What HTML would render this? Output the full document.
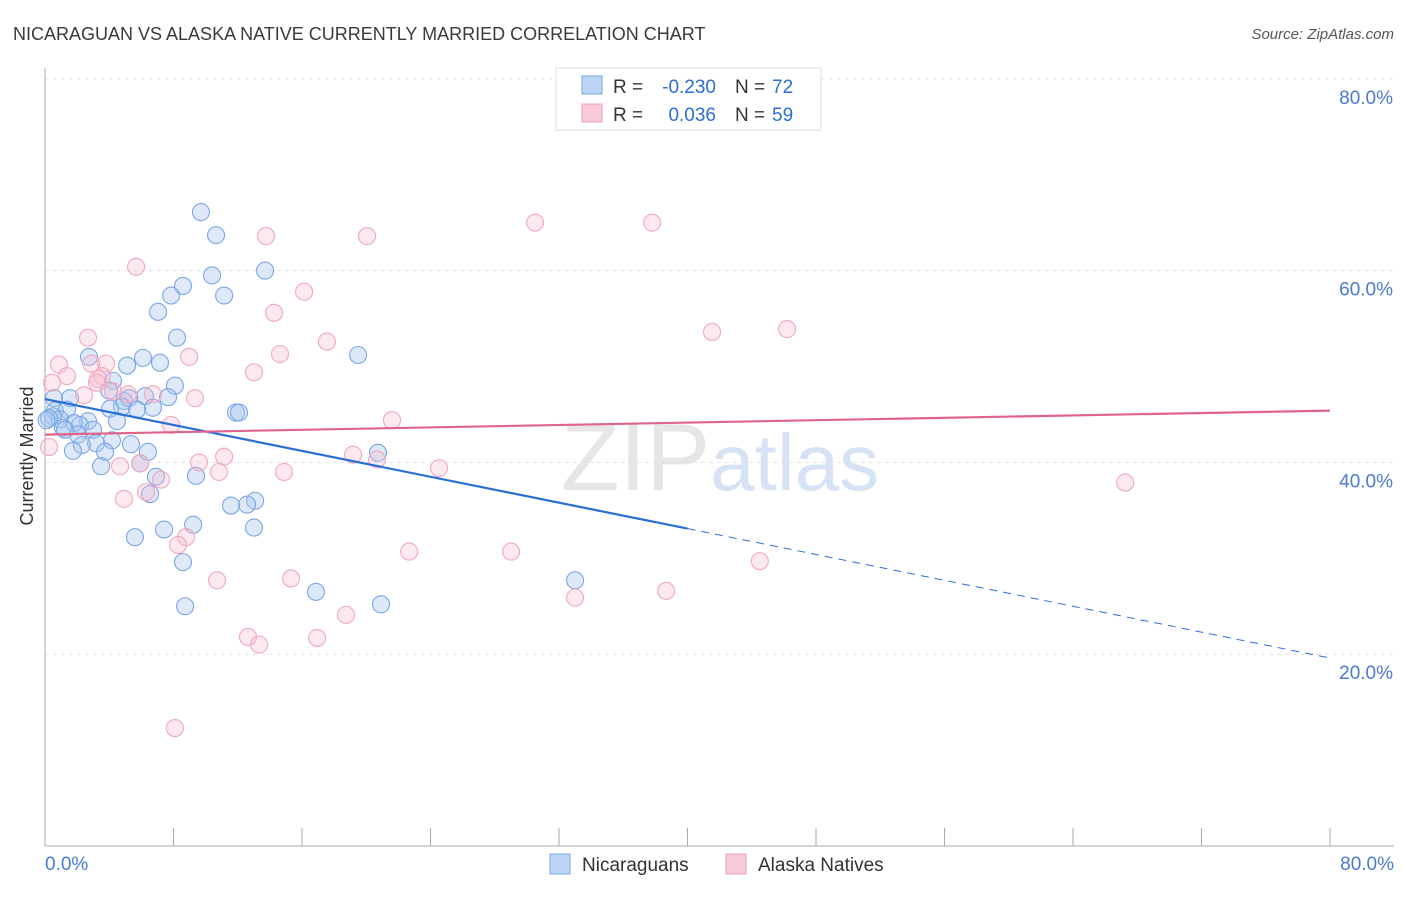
<!DOCTYPE html>
<html><head><meta charset="utf-8"><style>
body{margin:0;background:#fff;font-family:"Liberation Sans",sans-serif;}
svg text{font-family:"Liberation Sans",sans-serif;}
</style></head><body>
<svg id="chart" width="1406" height="892" xmlns="http://www.w3.org/2000/svg">
<text x="13" y="40" font-size="18" fill="#3a3a3a">NICARAGUAN VS ALASKA NATIVE CURRENTLY MARRIED CORRELATION CHART</text>
<text x="1394" y="39" font-size="15" fill="#555" text-anchor="end" font-style="italic">Source: ZipAtlas.com</text>
<text x="720" y="490" font-size="96" text-anchor="middle" fill="#e6e6e6" font-family="Liberation Serif"><tspan>ZIP</tspan><tspan fill="#d6e3f5" font-family="Liberation Sans" font-size="80">atlas</tspan></text>
<g id="grid"></g>
<g id="axes"></g>
<g id="pts"></g>
<g id="lines"></g>
<text transform="translate(33,456) rotate(-90)" font-size="18" fill="#333" text-anchor="middle">Currently Married</text>
<g>
<rect x="556" y="68" width="265" height="62" fill="#fff" stroke="#ddd"/>
<rect x="582" y="76" width="20" height="18" fill="#bcd4f5" stroke="#7aa6e6"/>
<rect x="582" y="104" width="20" height="18" fill="#f9c9d7" stroke="#ee9fb8"/>
<text x="613" y="93" font-size="19" fill="#333">R =</text>
<text x="716" y="93" font-size="19" fill="#2a6fd6" text-anchor="end">-0.230</text>
<text x="735" y="93" font-size="19" fill="#333">N =</text>
<text x="772" y="93" font-size="19" fill="#2a6fd6">72</text>
<text x="613" y="121" font-size="19" fill="#333">R =</text>
<text x="716" y="121" font-size="19" fill="#2a6fd6" text-anchor="end">0.036</text>
<text x="735" y="121" font-size="19" fill="#333">N =</text>
<text x="772" y="121" font-size="19" fill="#2a6fd6">59</text>
</g>
<g>
<rect x="550" y="854" width="20" height="20" fill="#bcd4f5" stroke="#7aa6e6"/>
<text x="582" y="871" font-size="19" fill="#333">Nicaraguans</text>
<rect x="726" y="854" width="20" height="20" fill="#f9c9d7" stroke="#ee9fb8"/>
<text x="758" y="871" font-size="19" fill="#333">Alaska Natives</text>
</g>
</svg>
<script>
const yTicks=[20,40,60,80];
const yTickLabels=["20.0%","40.0%","60.0%","80.0%"];
const xTicks=[0,8,16,24,32,40,48,56,64,72,80];
const blueX=[9.71,10.65,10.40,13.70,8.59,7.85,11.15,7.04,8.22,19.49,2.74,6.10,5.11,7.16,8.09,4.23,3.99,6.23,7.66,4.92,5.23,4.79,6.72,4.05,5.73,0.56,1.56,0.62,1.37,0.50,0.93,0.25,2.68,1.81,2.18,1.12,4.48,2.99,2.05,4.17,3.18,2.30,5.35,1.74,3.74,6.41,5.92,3.49,6.91,9.40,6.54,13.08,11.58,12.58,7.41,9.22,13.01,5.60,8.59,20.73,11.89,12.08,33.0,16.87,20.92,8.72,0.1,1.25];
const blueY=[66.1,63.7,59.5,60.0,58.4,57.4,57.4,55.7,53.0,51.2,51.0,50.9,50.1,50.4,48.0,48.5,47.5,46.9,46.8,46.4,46.7,45.8,45.7,45.6,45.5,46.7,46.7,45.4,45.5,44.8,44.5,44.6,44.3,44.1,43.9,43.6,44.3,43.4,42.9,42.3,42.0,41.8,41.9,41.2,41.1,41.1,39.9,39.6,38.5,38.6,36.7,36.0,35.5,35.6,33.0,33.5,33.2,32.2,29.6,41.0,45.2,45.2,27.7,26.5,25.2,25.0,44.4,43.4];
const pinkX=[8.09,13.76,20.05,30.51,37.8,5.67,16.13,14.26,41.53,46.2,17.55,2.68,14.63,8.97,0.87,3.80,2.87,13.01,1.37,3.55,0.44,3.24,2.43,5.17,6.72,9.34,4.23,21.6,7.85,0.25,11.15,9.59,19.18,20.67,5.92,4.67,10.83,14.88,24.53,7.22,6.29,4.92,67.25,8.78,8.28,22.67,29.02,44.5,10.71,15.32,38.67,33.0,18.74,12.64,13.33,16.94,3.30];
const pinkY=[12.3,63.6,63.6,65.0,65.0,60.4,57.8,55.6,53.6,53.9,52.6,53.0,51.3,51.0,50.2,50.3,50.3,49.4,49.0,49.0,48.3,48.3,47.0,47.1,47.1,46.7,47.4,44.4,43.9,41.6,40.6,40.0,40.8,40.3,39.9,39.6,39.0,39.0,39.4,38.2,36.9,36.2,37.9,32.2,31.4,30.7,30.7,29.7,27.7,27.9,26.6,25.9,24.1,21.8,21.0,21.7,48.7];
const blueTrend=[46.6,19.6];
const pinkTrend=[42.9,45.4];
const NS="http://www.w3.org/2000/svg";
const X=v=>45+v*(1285/80), Y=v=>846-v*9.59;
function mk(tag,attrs,parent){const e=document.createElementNS(NS,tag);for(const k in attrs)e.setAttribute(k,attrs[k]);document.getElementById(parent).appendChild(e);return e;}
yTicks.forEach((t,i)=>{
 const l=mk('line',{x1:45,x2:1394,y1:Y(t),y2:Y(t),stroke:'#e2e2e2','stroke-dasharray':'4,4'},'grid');
 
 
 const tx=mk('text',{x:1393,y:Y(t)+25,'font-size':19,fill:'#4a7bd0','text-anchor':'end'},'grid');
 tx.textContent=yTickLabels[i];
 
 
});
let a=mk('line',{x1:45,x2:45,y1:68,y2:846,stroke:'#aaa'},'axes');


a=mk('line',{x1:45,x2:1394,y1:846,y2:846,stroke:'#aaa'},'axes');


xTicks.forEach(t=>{const l=mk('line',{x1:X(t),x2:X(t),y1:828,y2:846,stroke:'#aaa'},'axes');
 
 });
let t0=mk('text',{x:45,y:870,'font-size':19,fill:'#4a7bd0'},'axes');t0.textContent='0.0%';


let t1=mk('text',{x:1394,y:870,'font-size':19,fill:'#4a7bd0','text-anchor':'end'},'axes');t1.textContent='80.0%';


blueX.forEach((x,i)=>{const c=mk('circle',{cx:X(x),cy:Y(blueY[i]),r:8.5,fill:'rgba(165,198,240,0.38)',stroke:'#7ba6e6','stroke-width':1.1},'pts');
 
 });
pinkX.forEach((x,i)=>{const c=mk('circle',{cx:X(x),cy:Y(pinkY[i]),r:8.5,fill:'rgba(245,185,205,0.33)',stroke:'#f0a8c0','stroke-width':1.1},'pts');
 
 });
const by=x=>blueTrend[0]+(blueTrend[1]-blueTrend[0])*x/80;
let l=mk('line',{x1:X(0),y1:Y(by(0)),x2:X(40),y2:Y(by(40)),stroke:'#2a6fd6','stroke-width':2.2},'lines');


l=mk('line',{x1:X(40),y1:Y(by(40)),x2:X(80),y2:Y(by(80)),stroke:'#2a6fd6','stroke-width':1,'stroke-dasharray':'8,6'},'lines');


l=mk('line',{x1:X(0),y1:Y(pinkTrend[0]),x2:X(80),y2:Y(pinkTrend[1]),stroke:'#e0638b','stroke-width':2.2},'lines');


</script>
</body></html>
